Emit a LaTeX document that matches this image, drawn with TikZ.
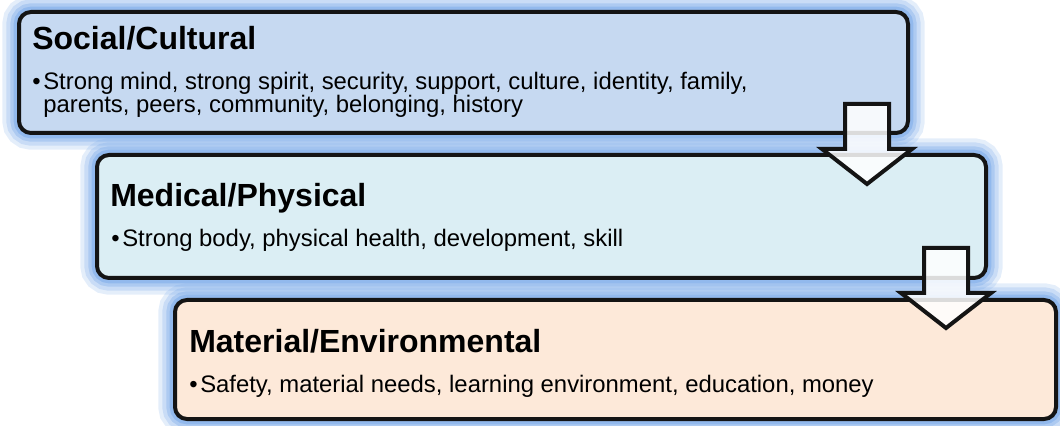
\documentclass[tikz,border=0pt]{standalone}
\usepackage{fontspec}
\setmainfont{Liberation Sans}

\definecolor{glowblau}{RGB}{120,168,232}
\definecolor{kastenA}{RGB}{198,217,241}
\definecolor{kastenB}{RGB}{219,238,244}
\definecolor{kastenC}{RGB}{253,233,217}
\definecolor{rand}{RGB}{20,20,20}

%Blockpfeil nach unten, Argument = Mitte oben
\newcommand{\flowpfeil}[1]{%
    \draw[pfeil] (#1) ++(-22,0) -- ++(44,0) -- ++(0,-45) -- ++(23,0)
    -- ++(-45,-35) -- ++(-45,35) -- ++(23,0) -- cycle;}

\begin{document}
\begin{tikzpicture}
    [
    x=0.75pt, y=0.75pt,
    kasten/.style={draw=rand, line width=3pt, rounded corners=9pt,
        anchor=north west, outer sep=0pt,
        preaction={draw=glowblau, line width=25pt, draw opacity=0.2},
        preaction={draw=glowblau, line width=19pt, draw opacity=0.25},
        preaction={draw=glowblau, line width=13pt, draw opacity=0.35},
        preaction={draw=glowblau, line width=8pt, draw opacity=0.5}},
    titel/.style={anchor=base west, inner sep=0pt,
        font=\fontsize{24}{28}\selectfont\bfseries},
    punkt/.style={anchor=base west, inner sep=0pt,
        font=\fontsize{17.9}{20}\selectfont},
    pfeil/.style={draw=rand, line width=3pt, fill=white, fill opacity=0.85}
    ]

    %Rahmen
    \useasboundingbox (0,0) rectangle (1060,425);

    %Kasten oben
    \node[kasten, fill=kastenA, minimum width=666.75pt, minimum height=90.75pt]
    (social) at (19,413) {};
    \node[titel] (socialtitel) at (32,375) {Social/Cultural};
    \node[punkt] (socialpunkt) at (32,335) {\textbullet};
    \node[punkt] (socialtext) at (43,335)
    {Strong mind, strong spirit, security, support, culture, identity, family,};
    \node[punkt] (socialtextb) at (43,312)
    {parents, peers, community, belonging, history};

    %Kasten Mitte
    \node[kasten, fill=kastenB, minimum width=666.75pt, minimum height=92.25pt]
    (medical) at (97,270) {};
    \node[titel] (medicaltitel) at (110,218) {Medical/Physical};
    \node[punkt] (medicalpunkt) at (111,178) {\textbullet};
    \node[punkt] (medicaltext) at (122,178)
    {Strong body, physical health, development, skill};

    %Kasten unten
    \node[kasten, fill=kastenC, minimum width=660.75pt, minimum height=89.25pt]
    (material) at (175,125) {};
    \node[titel] (materialtitel) at (189,73) {Material/Environmental};
    \node[punkt] (materialpunkt) at (189,33) {\textbullet};
    \node[punkt] (materialtext) at (200,33)
    {Safety, material needs, learning environment, education, money};

    %Pfeile zwischen den Kaesten
    \coordinate (pfeilA) at (867,321);
    \coordinate (pfeilB) at (946,177);
    \flowpfeil{pfeilA}
    \flowpfeil{pfeilB}
\end{tikzpicture}
\end{document}
